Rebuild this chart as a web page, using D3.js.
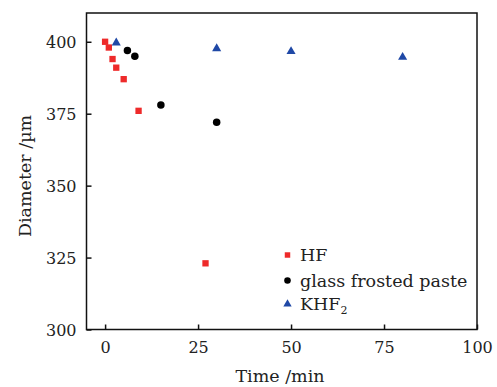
<!DOCTYPE html>
<html><head><meta charset="utf-8">
<script src="https://cdn.jsdelivr.net/npm/d3@7"></script>
<style>body{margin:0;background:#fff}svg{display:block}text{font-family:"DejaVu Serif","Liberation Serif",serif;fill:#222}</style>
</head><body><svg id="c" width="497" height="387"></svg>
<script>
const hfTime = [0, 1, 2, 3, 5, 9, 27];
const hfDiam = [400, 398, 394, 391, 387, 376, 323];
const gfpTime = [6, 8, 15, 30];
const gfpDiam = [397, 395, 378, 372];
const khfTime = [3, 30, 50, 80];
const khfDiam = [400, 398, 397, 395];
const xTicks = [0, 25, 50, 75, 100];
const yTicks = [300, 325, 350, 375, 400];
const seriesNames = ["HF", "glass frosted paste", "KHF2"];
const colors = ["#ee2a2a", "#000000", "#1f48a6"];

const svg = d3.select("#c");
const L = 86.5, R = 477, T = 13, B = 329.5;
const x = d3.scaleLinear().domain([-5, 100]).range([L, R]);
const y = d3.scaleLinear().domain([300, 410]).range([B, T]);

svg.append("rect").attr("x", L).attr("y", T).attr("width", R - L).attr("height", B - T)
  .attr("fill", "none").attr("stroke", "#111").attr("stroke-width", 1.5);

const xa = svg.append("g").attr("transform", `translate(0,${B})`)
  .call(d3.axisBottom(x).tickValues(xTicks).tickSize(-5).tickPadding(12).tickFormat(d3.format("d")));
const ya = svg.append("g").attr("transform", `translate(${L},0)`)
  .call(d3.axisLeft(y).tickValues(yTicks).tickSize(-5).tickPadding(10).tickFormat(d3.format("d")));
[xa, ya].forEach(a => {
  a.select(".domain").remove();
  a.selectAll(".tick line").attr("stroke", "#111").attr("stroke-width", 1.5);
  a.selectAll(".tick text").attr("font-size", 16).attr("fill", "#222")
    .style("font-family", "'DejaVu Serif', serif");
});
ya.selectAll(".tick text").attr("dy", "0.36em");

svg.append("text").attr("x", 280).attr("y", 382).attr("text-anchor", "middle")
  .attr("font-size", 17.5).text("Time /min");
svg.append("text").attr("transform", `translate(31,176) rotate(-90)`)
  .attr("text-anchor", "middle").attr("font-size", 17.5).text("Diameter /\u00b5m");

const g = svg.append("g");
const hf = hfTime.map((t, i) => [t, hfDiam[i]]);
const gfp = gfpTime.map((t, i) => [t, gfpDiam[i]]);
const khf = khfTime.map((t, i) => [t, khfDiam[i]]);

const sq = d3.symbol().type(d3.symbolSquare).size(40);
const ci = d3.symbol().type(d3.symbolCircle).size(44);
const tr = d3.symbol().type(d3.symbolTriangle).size(36);

g.selectAll(".hf").data(hf).join("path").attr("d", sq)
  .attr("transform", d => `translate(${x(d[0])},${y(d[1])})`).attr("fill", colors[0]);
g.selectAll(".gf").data(gfp).join("path").attr("d", ci)
  .attr("transform", d => `translate(${x(d[0])},${y(d[1])})`).attr("fill", colors[1]);
g.selectAll(".kh").data(khf).join("path").attr("d", tr)
  .attr("transform", d => `translate(${x(d[0])},${y(d[1]) + 1})`).attr("fill", colors[2]);

const leg = svg.append("g");
const ly = [255, 280.5, 304];
seriesNames.forEach((n, i) => {
  leg.append("path").attr("d", d3.symbol().type([d3.symbolSquare, d3.symbolCircle, d3.symbolTriangle][i]).size([30, 34, 30][i]))
    .attr("transform", `translate(287.5,${ly[i]})`).attr("fill", colors[i]);
  const t = leg.append("text").attr("x", 300).attr("y", ly[i]).attr("dy", "0.35em").attr("font-size", 17.5);
  if (n === "KHF2") {
    t.text("KHF");
    t.append("tspan").attr("font-size", 11).attr("dy", "0.35em").text("2");
  } else t.text(n);
});
</script></body></html>
